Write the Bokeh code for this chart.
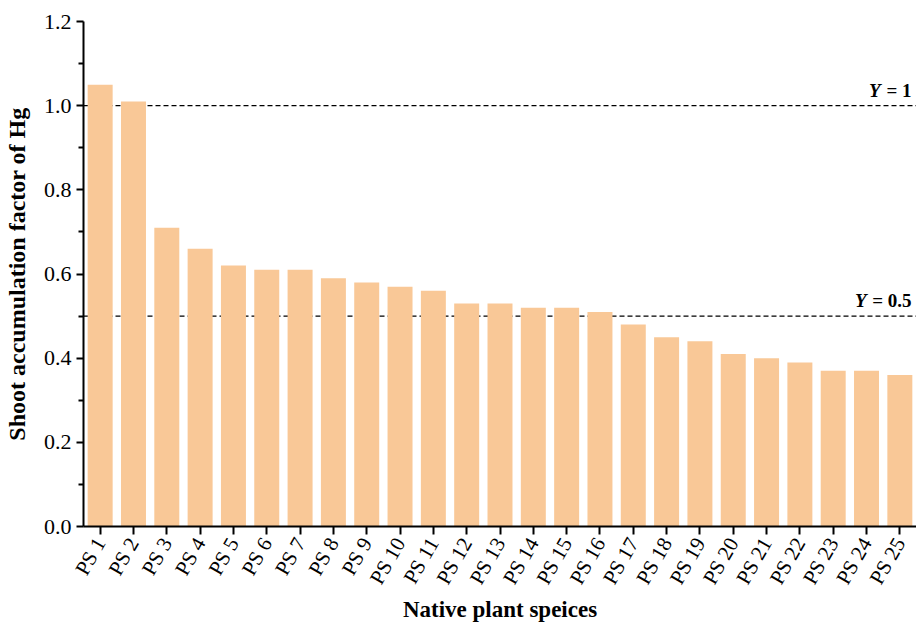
from bokeh.plotting import figure
from bokeh.models import ColumnDataSource, Span, Label, FixedTicker, CustomJSTickFormatter
from bokeh.embed import file_html
from bokeh.resources import INLINE
import math

species = ["PS 1", "PS 2", "PS 3", "PS 4", "PS 5", "PS 6", "PS 7", "PS 8", "PS 9", "PS 10",
           "PS 11", "PS 12", "PS 13", "PS 14", "PS 15", "PS 16", "PS 17", "PS 18", "PS 19", "PS 20",
           "PS 21", "PS 22", "PS 23", "PS 24", "PS 25"]
saf_hg = [1.05, 1.01, 0.71, 0.66, 0.62, 0.61, 0.61, 0.59, 0.58, 0.57,
          0.56, 0.53, 0.53, 0.52, 0.52, 0.51, 0.48, 0.45, 0.44, 0.41,
          0.40, 0.39, 0.37, 0.37, 0.36]
y_ticks = [0.0, 0.2, 0.4, 0.6, 0.8, 1.0, 1.2]
y_minor = [0.1, 0.3, 0.5, 0.7, 0.9, 1.1]
ref_lines = [1.0, 0.5]
ref_texts = ["= 1", "= 0.5"]

FONT = "Liberation Serif"

src = ColumnDataSource(dict(x=species, top=saf_hg))

p = figure(x_range=species, y_range=(0, 1.2), width=916, height=625,
           output_backend="svg", toolbar_location=None,
           min_border_left=82, min_border_right=0, min_border_top=21, min_border_bottom=99)
p.x_range.range_padding = 0
p.outline_line_color = None
p.xgrid.grid_line_color = None
p.ygrid.grid_line_color = None

for yv in ref_lines:
    p.add_layout(Span(location=yv, dimension="width", line_color="black",
                      line_dash="5 3", line_width=1.3, level="underlay"))

p.vbar(x="x", top="top", width=0.75, source=src, fill_color="#F9C897", line_color=None)

# reference labels (bold "= ..." plus bold-italic "Y")
y_right = [-36, -50]
for yv, txt, yr in zip(ref_lines, ref_texts, y_right):
    p.add_layout(Label(x=25, y=yv, text=txt, text_align="right", x_offset=-5, y_offset=5,
                       text_font=FONT, text_font_style="bold", text_font_size="19px",
                       text_color="black"))
    p.add_layout(Label(x=25, y=yv, text="Y", text_align="right", x_offset=yr, y_offset=5,
                       text_font=FONT, text_font_style="bold italic", text_font_size="19px",
                       text_color="black"))

# y axis
ya = p.yaxis[0]
ya.ticker = FixedTicker(ticks=y_ticks, minor_ticks=y_minor)
ya.formatter = CustomJSTickFormatter(code="return tick.toFixed(1);")
ya.axis_label = "Shoot accumulation factor of Hg"
ya.axis_label_text_font = FONT
ya.axis_label_text_font_style = "bold"
ya.axis_label_text_font_size = "24px"
ya.axis_label_text_color = "black"
ya.axis_label_standoff = 11
ya.major_label_text_font = FONT
ya.major_label_text_font_size = "22px"
ya.major_label_text_color = "black"
ya.axis_line_width = 2
ya.axis_line_color = "black"
ya.major_tick_line_width = 2
ya.minor_tick_line_width = 2
ya.major_tick_out = 7
ya.major_tick_in = 0
ya.minor_tick_out = 5
ya.minor_tick_in = 0

# x axis
xa = p.xaxis[0]
xa.axis_label = "Native plant speices"
xa.axis_label_text_font = FONT
xa.axis_label_text_font_style = "bold"
xa.axis_label_text_font_size = "23px"
xa.axis_label_text_color = "black"
xa.axis_label_standoff = 0
xa.major_label_text_font = FONT
xa.major_label_text_font_size = "21px"
xa.major_label_text_color = "black"
xa.major_label_orientation = math.pi / 3
xa.axis_line_width = 2
xa.axis_line_color = "black"
xa.major_tick_line_width = 2
xa.major_tick_out = 8
xa.major_tick_in = 0
xa.minor_tick_line_color = None

open("out.html", "w").write(file_html(p, INLINE))
